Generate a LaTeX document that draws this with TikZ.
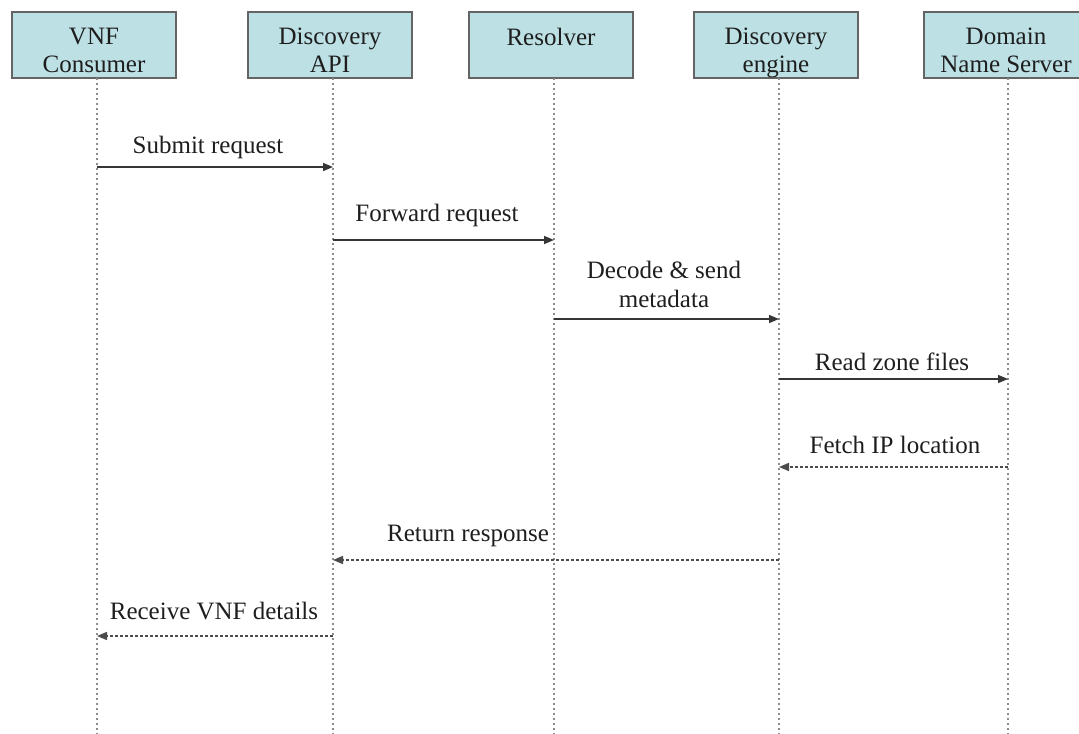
\documentclass[tikz,border=0pt]{standalone}
\usepackage{fontspec}
\setmainfont{Liberation Serif}
\usetikzlibrary{arrows.meta}
\definecolor{boxfill}{RGB}{188,224,228}
\definecolor{boxline}{RGB}{100,100,100}
\definecolor{inkdark}{RGB}{30,30,30}
\definecolor{lifegray}{RGB}{140,140,140}
\begin{document}
\begin{tikzpicture}[x=0.75pt,y=-0.75pt,
  actor/.style={draw=boxline, fill=boxfill, line width=1.4pt,
    minimum width=123pt, minimum height=49.5pt, inner sep=0pt},
  title/.style={align=center, inner sep=0pt, text=inkdark, anchor=north,
    font=\fontsize{18.75}{21}\selectfont},
  lifeline/.style={draw=lifegray, line width=0.9pt,
    dash pattern=on 1.5pt off 2pt on 1.5pt off 2.5pt},
  msglabel/.style={align=center, inner sep=0pt, text=inkdark,
    font=\fontsize{18.75}{21.75}\selectfont},
  call/.style={draw=inkdark!90, line width=1.1pt,
    -{Triangle[length=7.5pt,width=6pt]}},
  reply/.style={draw=inkdark!80, line width=1.2pt,
    dash pattern=on 2.25pt off 1.5pt,
    -{Triangle[length=7.5pt,width=6pt]}}]
\useasboundingbox (0,0) rectangle (1079,733);

% participant boxes
\node[actor] (cons) at (94,45) {};
\node[actor] (api)  at (330,45) {};
\node[actor] (res)  at (551,45) {};
\node[actor] (eng)  at (776,45) {};
\node[actor] (dns)  at (1006,45) {};

% participant names, first baseline aligned across all boxes
\node[title] (consT) at (94,28) {VNF\\Consumer};
\node[title] (apiT)  at (330,28) {Discovery\\API};
\node[title] (resT)  at (551,28) {Resolver};
\node[title] (engT)  at (776,28) {Discovery\\engine};
\node[title] (dnsT)  at (1006,28) {Domain\\Name Server};

% lifelines
\coordinate (l1) at (97,78);   \coordinate (l1e) at (97,733);
\coordinate (l2) at (333,78);  \coordinate (l2e) at (333,733);
\coordinate (l3) at (554,78);  \coordinate (l3e) at (554,733);
\coordinate (l4) at (779,78);  \coordinate (l4e) at (779,733);
\coordinate (l5) at (1008,78); \coordinate (l5e) at (1008,733);
\foreach \a/\b in {l1/l1e,l2/l2e,l3/l3e,l4/l4e,l5/l5e}
  \draw[lifeline] (\a) -- (\b);

% messages
\draw[call] (l1 |- 0,167) -- (l2 |- 0,167);
\node[msglabel, anchor=base] (m1) at (208,153) {Submit request};

\draw[call] (l2 |- 0,240) -- (l3 |- 0,240);
\node[msglabel, anchor=base] (m2) at (437,221) {Forward request};

\draw[call] (l3 |- 0,319) -- (l4 |- 0,319);
\node[msglabel] (m3) at (664,284) {Decode \& send\\metadata};

\draw[call] (l4 |- 0,379) -- (l5 |- 0,379);
\node[msglabel, anchor=base] (m4) at (892,370) {Read zone files};

\draw[reply] (l5 |- 0,467) -- (l4 |- 0,467);
\node[msglabel, anchor=base] (m5) at (895,453) {Fetch IP location};

\draw[reply] (l4 |- 0,560) -- (l2 |- 0,560);
\node[msglabel, anchor=base] (m6) at (468,541) {Return response};

\draw[reply] (l2 |- 0,636) -- (l1 |- 0,636);
\node[msglabel, anchor=base] (m7) at (214,619) {Receive VNF details};
\end{tikzpicture}
\end{document}
